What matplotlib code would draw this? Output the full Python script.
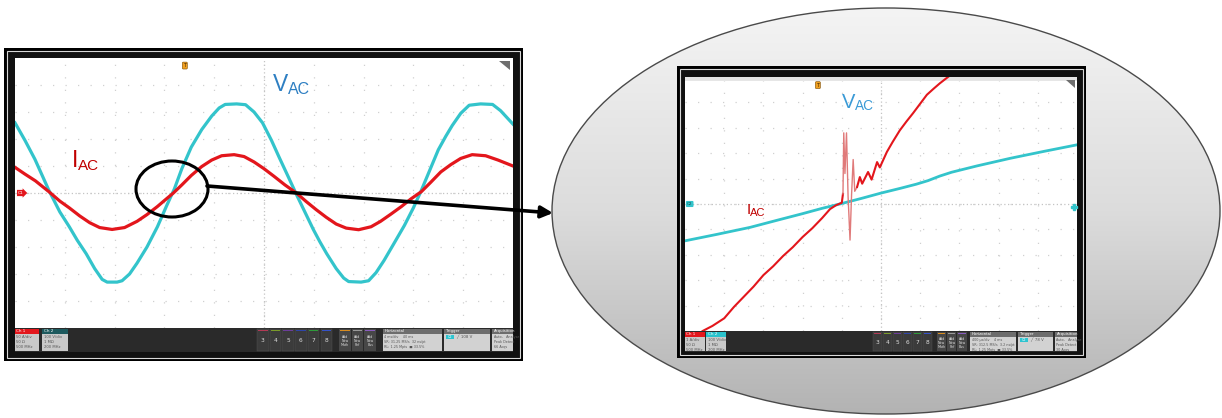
import numpy as np
import matplotlib
matplotlib.use("Agg")
import matplotlib.pyplot as plt
from matplotlib import font_manager
from matplotlib.patches import Rectangle, Ellipse, Polygon

plt.rcParams['font.family'] = ['DejaVu Sans']

# ---- traces (x in divisions 0..10, y in divisions -5..5)
# left screen: 4 ms/div, two line cycles
vac_left_x = [0, 0.2, 0.4, 0.68, 0.9, 1.09, 1.25, 1.43, 1.6, 1.75, 1.85, 2.05, 2.15, 2.3, 2.45,
              2.65, 2.86, 3.05, 3.2, 3.35, 3.54, 3.75, 3.95, 4.1, 4.22, 4.45, 4.63, 4.8, 4.97,
              5.15, 5.31, 5.5, 5.65, 5.82, 5.99, 6.12, 6.26, 6.45, 6.6, 6.7, 6.95, 7.1, 7.25,
              7.41, 7.6, 7.82, 8.0, 8.16, 8.33, 8.5, 8.65, 8.78, 8.95, 9.12, 9.35, 9.59, 9.75, 10.0]
vac_left_y = [2.6, 1.95, 1.25, 0.1, -0.7, -1.25, -1.75, -2.25, -2.8, -3.2, -3.3, -3.3, -3.25, -3.0, -2.6,
              -2.0, -1.25, -0.45, 0.15, 0.9, 1.7, 2.35, 2.85, 3.15, 3.28, 3.3, 3.27, 3.0, 2.6,
              1.95, 1.3, 0.55, -0.05, -0.7, -1.35, -1.8, -2.25, -2.8, -3.15, -3.28, -3.3, -3.25, -2.95,
              -2.5, -1.9, -1.2, -0.55, 0.1, 0.85, 1.6, 2.1, 2.5, 2.95, 3.25, 3.3, 3.28, 3.05, 2.55]

iac_left_x = [0, 0.2, 0.41, 0.68, 0.9, 1.09, 1.3, 1.5, 1.7, 1.95, 2.2, 2.45, 2.65, 2.86, 3.0, 3.18,
              3.35, 3.54, 3.75, 3.95, 4.15, 4.4, 4.6, 4.8, 5.0, 5.2, 5.42, 5.65, 5.85, 6.05, 6.25,
              6.45, 6.65, 6.9, 7.15, 7.34, 7.55, 7.76, 7.95, 8.16, 8.35, 8.55, 8.75, 8.95, 9.18,
              9.45, 9.7, 10.0]
iac_left_y = [0.95, 0.7, 0.45, 0.05, -0.3, -0.55, -0.85, -1.1, -1.28, -1.35, -1.28, -1.05, -0.8, -0.5,
              -0.28, 0.0, 0.3, 0.65, 0.98, 1.22, 1.38, 1.42, 1.35, 1.15, 0.9, 0.62, 0.3, 0.0, -0.32,
              -0.62, -0.9, -1.15, -1.3, -1.36, -1.25, -1.05, -0.78, -0.5, -0.22, 0.05, 0.4, 0.78,
              1.05, 1.28, 1.42, 1.38, 1.22, 1.0]

# right screen: zoom on the zero crossing
vac_right_x = [0, 0.8, 1.66, 2.4, 3.0, 3.5, 3.95, 4.5, 5.0, 5.5, 5.9, 6.2, 6.5, 6.8, 7.45, 8.3, 9.15, 10.0]
vac_right_y = [-1.45, -1.2, -0.92, -0.62, -0.38, -0.17, 0.0, 0.22, 0.43, 0.62, 0.78, 0.92, 1.1, 1.25,
               1.5, 1.8, 2.07, 2.33]

iac_right_x = [0.45, 0.7, 1.0, 1.25, 1.5, 1.75, 2.0, 2.25, 2.5, 2.75, 3.0, 3.25, 3.5, 3.7, 3.85, 4.0, 4.03]
iac_right_y = [-5.0, -4.8, -4.5, -4.05, -3.65, -3.25, -2.8, -2.45, -2.05, -1.7, -1.3, -0.95, -0.55,
               -0.2, -0.05, 0.05, 0.4]
ring_x = [4.03, 4.05, 4.08, 4.12, 4.16, 4.21, 4.25, 4.29, 4.33, 4.39]
ring_y = [0.4, 2.8, 1.2, 2.8, 0.3, -1.42, 0.4, 1.75, 0.5, 0.67]
iac_right2_x = [4.39, 4.46, 4.52, 4.67, 4.76, 4.9, 4.97, 5.15, 5.3, 5.48, 5.65, 5.82, 6.0, 6.17, 6.35, 6.5, 6.75]
iac_right2_y = [0.67, 1.06, 0.8, 1.26, 0.96, 1.65, 1.44, 2.05, 2.45, 2.9, 3.25, 3.58, 3.95, 4.3, 4.55, 4.75, 5.05]

left_status = ["50 A/div", "50 Ω", "500 MHz"], ["100 V/div", "1 MΩ", "200 MHz"], \
    ["4 ms/div    40 ms", "SR: 31.25 MS/s  32 ns/pt", "RL: 1.25 Mpts  ■ 33.5%"], "108 V", \
    ["Auto,   Analyze", "Peak Detect", "66 Acqs"]
right_status = ["1 A/div", "50 Ω", "500 MHz"], ["100 V/div", "1 MΩ", "200 MHz"], \
    ["400 µs/div    4 ms", "SR: 312.5 MS/s  3.2 ns/pt", "RL: 1.25 Mpts  ■ 33.5%"], "78 V", \
    ["Auto,   Analyze", "Peak Detect", "30 Acqs"]

CYAN = '#33c4cb'
RED = '#e3161c'
W, H = 1222, 418

fig = plt.figure(figsize=(W / 100, H / 100), dpi=100)
bg = fig.add_axes([0, 0, 1, 1])
bg.set_xlim(0, W)
bg.set_ylim(H, 0)
bg.axis('off')

# big grey ellipse with a vertical gradient
ell = Ellipse((886, 211), 668, 406, fc='none', ec='#4a4a4a', lw=1.0, zorder=3)
bg.add_patch(ell)
grad = np.linspace(0, 1, 256)[:, None]
im = bg.imshow(grad, cmap=matplotlib.colors.LinearSegmentedColormap.from_list(
    'g', ['#f4f4f4', '#dcdcdc', '#b3b3b3']), extent=(552, 1220, 414, 8),
    origin='upper', aspect='auto', zorder=1)
im.set_clip_path(ell)
bg.set_xlim(0, W)
bg.set_ylim(H, 0)


def frame(x0, y0, x1, y1):
    bg.add_patch(Rectangle((x0, y0), x1 - x0, y1 - y0, fc='black', ec='none', zorder=4))
    bg.add_patch(Rectangle((x0 + 3, y0 + 3), x1 - x0 - 6, y1 - y0 - 6, fc='#111111',
                           ec='#d8d8d8', lw=0.8, zorder=4))


def status(y0, y1, px0, px1, ch1, ch2, btn, add, hor, trig, acq, txt, dark_tab=False):
    bg.add_patch(Rectangle((px0, y0), px1 - px0, y1 - y0, fc='#2a2a2a', ec='none', zorder=5))
    hh = 4.5
    fs = 3.0
    # channel boxes
    for (a, b), head, col, lines in [(ch1, "Ch 1", RED, txt[0]), (ch2, "Ch 2", ch2_col, txt[1])]:
        bg.add_patch(Rectangle((a, y0 + 1), b - a, hh, fc=col, ec='none', zorder=6))
        bg.add_patch(Rectangle((a, y0 + 1 + hh), b - a, y1 - y0 - 2 - hh, fc='#c9c9c9', ec='none', zorder=6))
        bg.text(a + 1.5, y0 + 1 + hh / 2, head, color='white', fontsize=fs, va='center', zorder=7)
        for k, s in enumerate(lines):
            bg.text(a + 1.5, y0 + hh + 4.5 + k * 5.2, s, color='#555555', fontsize=fs - 0.3,
                    va='center', zorder=7)
    if dark_tab:
        bg.add_patch(Rectangle((ch1[0], y0 - 4.5), ch1[1] - ch1[0], 4.5, fc='#5a1010', ec='none', zorder=6))
    # numbered channel buttons
    bx, bw = btn
    for k, c in enumerate(['#b23a55', '#7a9a2a', '#6b3d9a', '#2f45a8', '#2e9a3a', '#3552c8']):
        x = bx + k * (bw + 1.2)
        bg.add_patch(Rectangle((x, y0 + 1), bw, y1 - y0 - 2, fc='#3b3b3b', ec='#555555', lw=0.3, zorder=6))
        bg.add_patch(Rectangle((x + 1, y0 + 1.5), bw - 2, 1.3, fc=c, ec='none', zorder=7))
        bg.text(x + bw / 2, (y0 + y1) / 2 + 1, str(k + 3), color='#dddddd', fontsize=4.2,
                ha='center', va='center', zorder=7)
    ax0, aw = add
    for k, (c, s) in enumerate([('#d98c1f', "Add\nNew\nMath"), ('#9a9a9a', "Add\nNew\nRef"),
                                ('#8a5cc0', "Add\nNew\nBus")]):
        x = ax0 + k * (aw + 1)
        bg.add_patch(Rectangle((x, y0 + 1), aw, y1 - y0 - 2, fc='#474747', ec='none', zorder=6))
        bg.add_patch(Rectangle((x + 1, y0 + 1.5), aw - 2, 1.3, fc=c, ec='none', zorder=7))
        bg.text(x + aw / 2, (y0 + y1) / 2 + 1.5, s, color='#dddddd', fontsize=2.3, ha='center',
                va='center', linespacing=1.0, zorder=7)
    # horizontal / trigger / acquisition boxes
    for (a, b), head, lines in [(hor, "Horizontal", txt[2]), (trig, "Trigger", []),
                                (acq, "Acquisition", txt[4])]:
        bg.add_patch(Rectangle((a, y0 + 1), b - a, hh, fc='#6d6d6d', ec='none', zorder=6))
        bg.add_patch(Rectangle((a, y0 + 1 + hh), b - a, y1 - y0 - 2 - hh, fc='#d2d2d2', ec='none', zorder=6))
        bg.text(a + 1.5, y0 + 1 + hh / 2, head, color='white', fontsize=fs - 0.2, va='center', zorder=7)
        for k, s in enumerate(lines):
            bg.text(a + 1.5, y0 + hh + 4.5 + k * 5.2, s, color='#555555', fontsize=fs - 0.6,
                    va='center', zorder=7, clip_on=True)
    a = trig[0]
    bg.add_patch(Rectangle((a + 2, y0 + hh + 2.5), 8, 4, fc='#2ec4d0', ec='none', zorder=7))
    bg.text(a + 6, y0 + hh + 4.5, "C2", color='white', fontsize=2.4, ha='center', va='center', zorder=8)
    bg.text(a + 12, y0 + hh + 4.5, "╱  " + txt[3], color='#555555', fontsize=2.8, va='center', zorder=8)


def screen(px0, py0, px1, py1, top_bar=False):
    ax = fig.add_axes([px0 / W, 1 - py1 / H, (px1 - px0) / W, (py1 - py0) / H])
    ax.set_xlim(0, 10)
    ax.set_ylim(-5, 5)
    ax.set_facecolor('white')
    for s in ax.spines.values():
        s.set_visible(False)
    ax.set_xticks([])
    ax.set_yticks([])
    for k in range(1, 10):
        ax.axvline(k, color='#d0d0d0', lw=0.9, ls=(0, (1, 9)), zorder=1)
    for k in range(-4, 5):
        ax.axhline(k, color='#d0d0d0', lw=0.9, ls=(0, (1, 9)), zorder=1)
    ax.axvline(5, color='#c4c4c4', lw=0.9, ls=(0, (1, 2)), zorder=1)
    ax.axhline(0, color='#c4c4c4', lw=0.9, ls=(0, (1, 2)), zorder=1)
    ax.add_patch(Polygon([(0.972, 0.99), (0.994, 0.99), (0.994, 0.955)], closed=True,
                         transform=ax.transAxes, fc='#6e6e6e', ec='none', zorder=5))
    if top_bar:
        ax.add_patch(Rectangle((0, 0.985), 1, 0.015, transform=ax.transAxes, fc='#e6e6e6',
                               ec='none', zorder=2))
    return ax


# ---------------- left scope
frame(4, 48, 523, 361)
ch2_col = '#1d5a5e'
axl = screen(15, 58, 513, 328)
status(328, 352, 15, 513, (15, 39), (42, 68), (257, 11.5), (339, 11.7), (383, 442), (444, 490),
       (492, 513), left_status)
axl.plot(vac_left_x, vac_left_y, color=CYAN, lw=2.3, zorder=3, solid_joinstyle='round')
axl.plot(iac_left_x, iac_left_y, color=RED, lw=2.3, zorder=4, solid_joinstyle='round')
axl.text(3.41, 4.72, 'T', fontsize=3.5, color='#3a2000', ha='center', va='center', zorder=6,
         bbox=dict(boxstyle='round,pad=0.2', fc='#f0a020', ec='#7a4a00', lw=0.4))
axl.text(0.12, 0, 'C1', fontsize=3.2, color='white', ha='center', va='center', zorder=6,
         bbox=dict(boxstyle='rarrow,pad=0.25', fc=RED, ec='none'))

# ---------------- right scope
frame(677, 66, 1086, 358)
ch2_col = '#2ac2cc'
axr = screen(685, 77, 1077, 331, top_bar=True)
status(331, 352, 685, 1077, (685, 705), (706, 726), (873, 8.8), (937, 9.2), (970, 1016), (1018, 1053),
       (1055, 1077), right_status, dark_tab=True)
axr.plot(vac_right_x, vac_right_y, color=CYAN, lw=2.0, zorder=3)
axr.plot(iac_right_x, iac_right_y, color=RED, lw=1.5, zorder=4)
axr.plot(ring_x, ring_y, color='#e07a7a', lw=1.0, zorder=4)
axr.plot(iac_right2_x, iac_right2_y, color=RED, lw=1.5, zorder=4)
axr.text(3.39, 4.68, 'T', fontsize=3.5, color='#3a2000', ha='center', va='center', zorder=6,
         bbox=dict(boxstyle='round,pad=0.2', fc='#f0a020', ec='#7a4a00', lw=0.4))
axr.text(0.12, 0, 'C2', fontsize=3.0, color='#1a4a50', ha='center', va='center', zorder=6,
         bbox=dict(boxstyle='round,pad=0.25', fc=CYAN, ec='none'))
axr.plot([9.92], [-0.1], marker='P', ms=4, color=CYAN, zorder=6, clip_on=False)

# ---------------- overlay: labels, circle and arrow
ov = fig.add_axes([0, 0, 1, 1], facecolor='none')
ov.set_xlim(0, W)
ov.set_ylim(H, 0)
ov.axis('off')
names = {f.name for f in font_manager.fontManager.ttflist}
fam = ['Liberation Sans Narrow'] if 'Liberation Sans Narrow' in names else ['Liberation Sans']
renderer = fig.canvas.get_renderer()


def label(x, yb, main, sub, color, s1, s2, drop):
    t = ov.text(x, yb, main, color=color, fontsize=s1, family=fam, va='baseline')
    ext = t.get_window_extent(renderer)
    x2 = ov.transData.inverted().transform((ext.x1, ext.y0))[0]
    ov.text(x2 - 0.5, yb + drop, sub, color=color, fontsize=s2, family=fam, va='baseline')


BLUE = '#2e7fc2'
DRED = '#c00000'
label(273, 91, 'V', 'AC', BLUE, 16.5, 11.5, 3)
label(72, 167, 'I', 'AC', DRED, 16.5, 11, 3)
label(842, 108, 'V', 'AC', '#3a9ad6', 14.5, 9.8, 2.5)
label(746.5, 214, 'I', 'AC', DRED, 11, 8, 2.5)

ov.add_patch(Ellipse((172, 189), 72, 56, fc='none', ec='black', lw=2.2))
ov.annotate('', xy=(553, 213), xytext=(207, 186),
            arrowprops=dict(arrowstyle='-|>,head_length=0.7,head_width=0.35', color='black', lw=2.6,
                            shrinkA=0, shrinkB=0))

fig.savefig('out.png', dpi=100)
